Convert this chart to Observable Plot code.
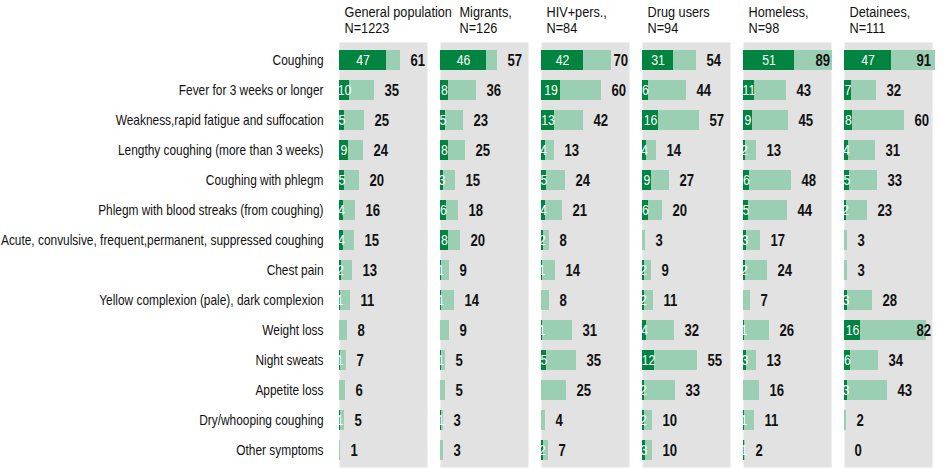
<!DOCTYPE html>
<html>
<head>
<meta charset="utf-8">
<script src="https://cdn.jsdelivr.net/npm/d3@7"></script>
<script src="https://cdn.jsdelivr.net/npm/@observablehq/plot@0.6"></script>
<style>
  body { margin: 0; background: #ffffff; }
  #chart svg { display: block; }
</style>
</head>
<body>
<div id="chart"></div>
<script>
const symptoms = [
  "Coughing",
  "Fever for 3 weeks or longer",
  "Weakness,rapid fatigue and suffocation",
  "Lengthy coughing (more than 3 weeks)",
  "Coughing with phlegm",
  "Phlegm with blood streaks (from coughing)",
  "Acute, convulsive, frequent,permanent, suppressed coughing",
  "Chest pain",
  "Yellow complexion (pale), dark complexion",
  "Weight loss",
  "Night sweats",
  "Appetite loss",
  "Dry/whooping coughing",
  "Other symptoms"
];
const groups = ["General population", "Migrants", "HIV+pers.", "Drug users", "Homeless", "Detainees"];
const groupTitles = [
  "General population\nN=1223",
  "Migrants,\nN=126",
  "HIV+pers.,\nN=84",
  "Drug users\nN=94",
  "Homeless,\nN=98",
  "Detainees,\nN=111"
];

// light (larger) values per group
const lightGeneral   = [61, 35, 25, 24, 20, 16, 15, 13, 11, 8, 7, 6, 5, 1];
const lightMigrants  = [57, 36, 23, 25, 15, 18, 20, 9, 14, 9, 5, 5, 3, 3];
const lightHIV       = [70, 60, 42, 13, 24, 21, 8, 14, 8, 31, 35, 25, 4, 7];
const lightDrug      = [54, 44, 57, 14, 27, 20, 3, 9, 11, 32, 55, 33, 10, 10];
const lightHomeless  = [89, 43, 45, 13, 48, 44, 17, 24, 7, 26, 13, 16, 11, 2];
const lightDetainees = [91, 32, 60, 31, 33, 23, 3, 3, 28, 82, 34, 43, 2, 0];

// dark (smaller) values per group
const darkGeneral   = [47, 10, 5, 9, 5, 4, 4, 2, 1, 0, 1, 0, 1, 0];
const darkMigrants  = [46, 8, 5, 8, 3, 6, 8, 1, 1, 0, 1, 0, 1, 0];
const darkHIV       = [42, 19, 13, 4, 5, 4, 2, 1, 0, 1, 5, 0, 0, 2];
const darkDrug      = [31, 6, 16, 4, 9, 6, 0, 2, 2, 4, 12, 2, 2, 3];
const darkHomeless  = [51, 11, 9, 2, 6, 5, 3, 2, 0, 1, 3, 0, 1, 1];
const darkDetainees = [47, 7, 8, 4, 5, 2, 0, 0, 3, 16, 6, 3, 0, 0];

const lightSeries = [lightGeneral, lightMigrants, lightHIV, lightDrug, lightHomeless, lightDetainees];
const darkSeries  = [darkGeneral, darkMigrants, darkHIV, darkDrug, darkHomeless, darkDetainees];

const rows = [];
groups.forEach((g, gi) => {
  symptoms.forEach((s, si) => {
    rows.push({group: g, symptom: s, light: lightSeries[gi][si], dark: darkSeries[gi][si]});
  });
});
const titleRows = groups.map((g, i) => ({group: g, title: groupTitles[i]}));

const LIGHT = "#9bcfb3";
const DARK = "#00843f";
const PANEL = "#e2e2e2";

const titleStyle = {
  fx: "group", text: "title",
  frameAnchor: "top-left", textAnchor: "start", lineAnchor: "top",
  dy: -37, fontSize: 15.5, lineHeight: 1.05, fill: "#111"
};

const chart = Plot.plot({
  width: 949,
  height: 468,
  marginLeft: 337,
  marginRight: 16,
  marginTop: 42,
  marginBottom: 1,
  style: {fontFamily: "'Liberation Sans', Arial, sans-serif", fontSize: "14px", background: "#ffffff", color: "#000"},
  fx: {domain: groups, axis: null, paddingInner: 0.13, paddingOuter: 0},
  x: {domain: [0, 88], axis: null},
  y: {domain: symptoms, paddingInner: 0.34, paddingOuter: 0.17, axis: null},
  marks: [
    Plot.frame({fill: PANEL, stroke: "none"}),
    Plot.axisY({tickSize: 0, tickPadding: 16, fontSize: 14.5, label: null, fill: "#111"}),
    Plot.barX(rows, {fx: "group", y: "symptom", x: "light", fill: LIGHT}),
    Plot.barX(rows.filter(d => d.dark > 0), {fx: "group", y: "symptom", x: "dark", fill: DARK}),
    Plot.text(rows.filter(d => d.dark > 0), {
      fx: "group", y: "symptom", x: d => d.dark / 2,
      text: d => String(d.dark), fill: "white", fontSize: 15, clip: true
    }),
    Plot.text(rows, {
      fx: "group", y: "symptom", x: d => Math.min(d.light, 62), dx: 10,
      textAnchor: "start", text: d => String(d.light),
      fontWeight: "bold", fontSize: 16, fill: "#111"
    }),
    Plot.text(titleRows.filter(d => d.group !== "Migrants"), {...titleStyle, dx: 5}),
    Plot.text(titleRows.filter(d => d.group === "Migrants"), {...titleStyle, dx: 19})
  ]
});
document.getElementById("chart").appendChild(chart);

// Emulate a condensed (narrow) typeface by compressing each text run horizontally.
const NARROW = 0.82;
chart.querySelectorAll("text").forEach(t => {
  const spans = t.querySelectorAll("tspan");
  const targets = spans.length ? Array.from(spans) : [t];
  targets.forEach(el => {
    const w = el.getComputedTextLength();
    if (w > 0) {
      el.setAttribute("textLength", (w * NARROW).toFixed(2));
      el.setAttribute("lengthAdjust", "spacingAndGlyphs");
    }
  });
});
</script>
</body>
</html>
